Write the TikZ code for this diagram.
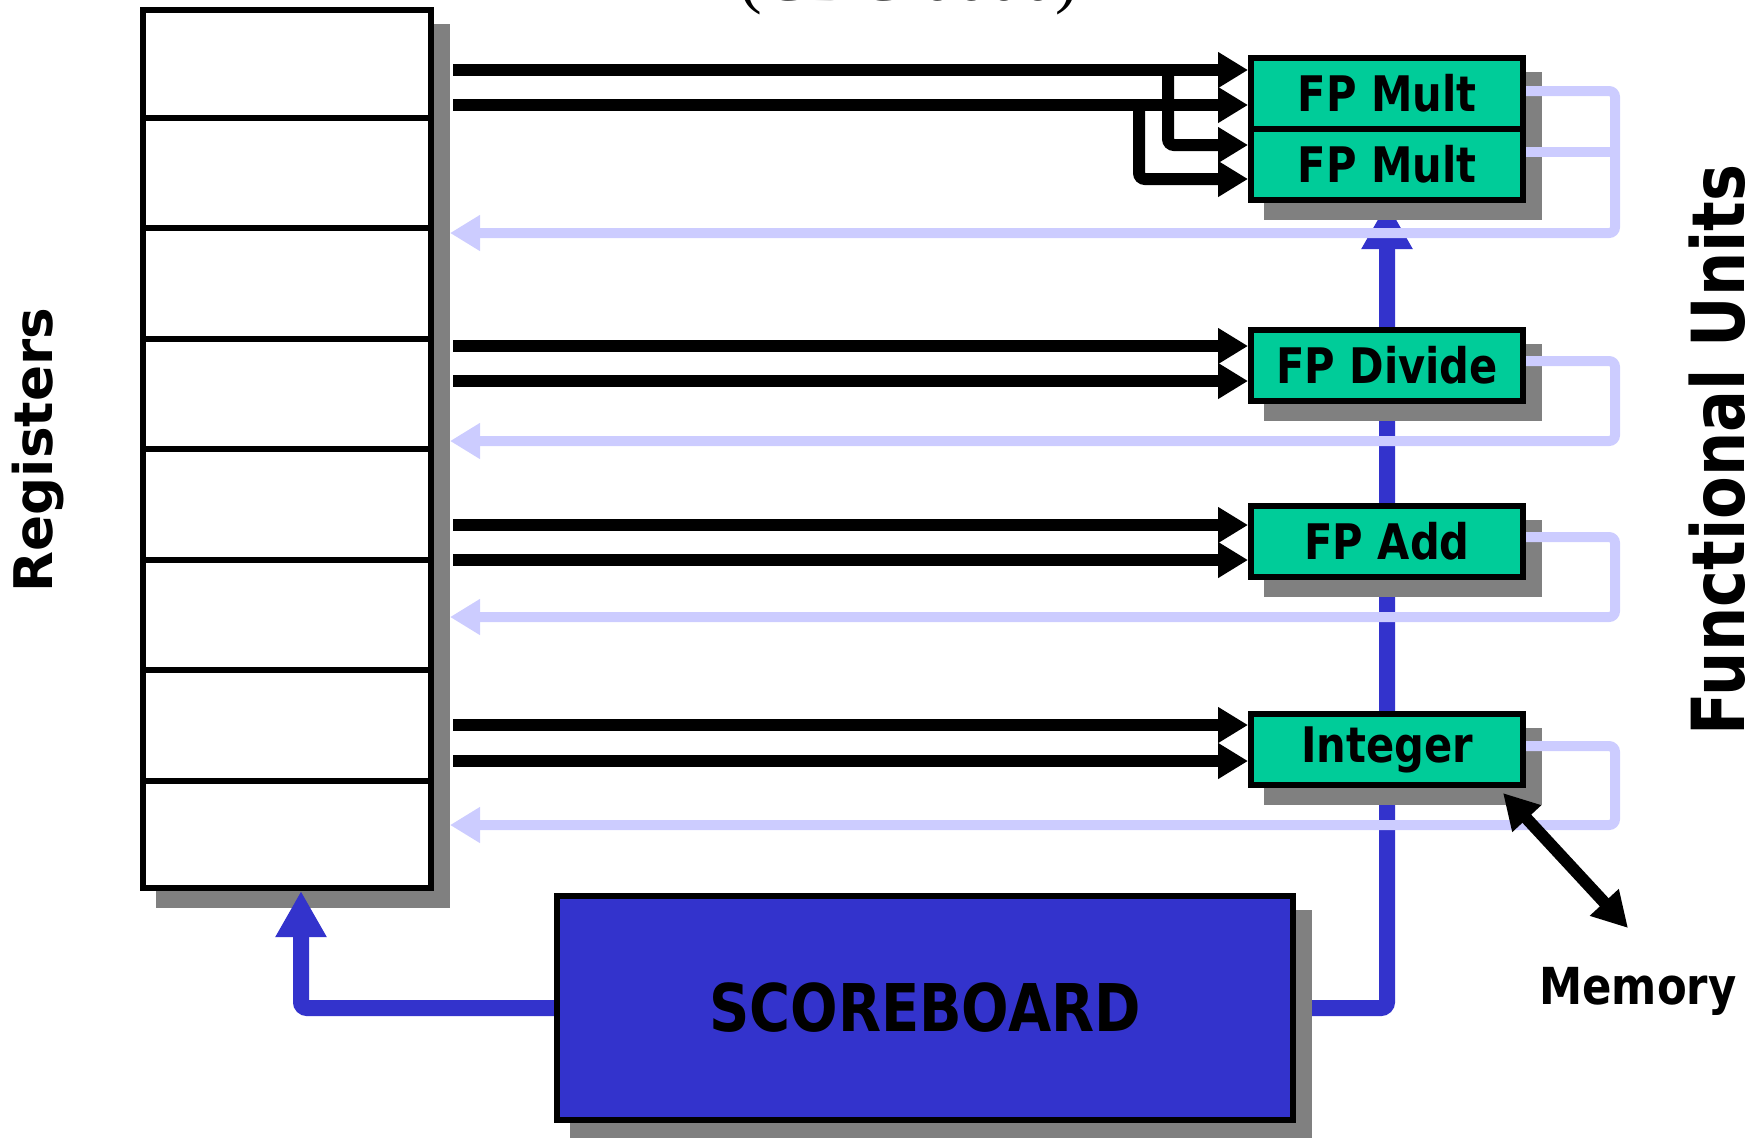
\documentclass[tikz,border=0pt]{standalone}
\usepackage{fontspec}
\setmainfont{DejaVu Sans}
\newfontfamily\narrowfont{DejaVu Sans}[FakeStretch=0.85]
\newfontfamily\titlefont{Liberation Serif}
\usetikzlibrary{arrows.meta,calc}
\definecolor{fugreen}{HTML}{00CC99}
\definecolor{sbblue}{HTML}{3333CC}
\definecolor{lavline}{HTML}{CCCCFF}
\definecolor{shadowgray}{HTML}{808080}
\pgfdeclarelayer{back}
\pgfdeclarelayer{shade}
\pgfdeclarelayer{mid}
\pgfsetlayers{back,shade,mid,main}
\begin{document}
\begin{tikzpicture}[x=0.5pt,y=-0.5pt,
  regbox/.style={draw, line width=3pt, fill=white, minimum width=144pt, minimum height=439pt, inner sep=0pt},
  fu/.style={draw, line width=3pt, fill=fugreen, minimum width=136pt, minimum height=35.5pt, inner sep=0pt,
    font=\narrowfont\bfseries\fontsize{24.5}{28}\selectfont},
  sbox/.style={draw, line width=3pt, fill=sbblue, minimum width=368pt, minimum height=112pt, inner sep=0pt,
    font=\narrowfont\bfseries\fontsize{32.9}{36}\selectfont},
  blk/.style={line width=6pt, -{Triangle[length=15pt,width=17pt]}},
  blkb/.style={line width=6pt, rounded corners=3pt, -{Triangle[length=15pt,width=17pt]}},
  lav/.style={draw=lavline, line width=5pt, rounded corners=3pt, -{Triangle[length=15pt,width=17pt]}},
  lavplain/.style={draw=lavline, line width=5pt},
  blu/.style={draw=sbblue, line width=8pt, rounded corners=3pt, -{Triangle[length=23pt,width=24pt]}},
  memarr/.style={line width=6pt, {Triangle[length=17.5pt,width=18.5pt]}-{Triangle[length=17.5pt,width=18.5pt]}},
  shadowfill/.style={fill=shadowgray}
]
\useasboundingbox (0,0) rectangle (1759,1137);

% title (cut by the page edge, as in the reference)
\node[font=\titlefont\fontsize{34}{40}\selectfont, anchor=base, inner sep=0pt] (title) at (909,0) {(CDC 6600)};

% nodes
\node[regbox] (regs) at (287,449) {};
\foreach \k in {1,...,7}
  \draw[line width=3pt] ($(regs.north west)!\k/8!(regs.south west)$) -- ($(regs.north east)!\k/8!(regs.south east)$);

\node[fu] (mult1) at (1387,93.5) {FP Mult};
\node[fu] (mult2) at (1387,164.5) {FP Mult};
\node[fu] (div) at (1387,365.5) {FP Divide};
\node[fu] (add) at (1387,541.5) {FP Add};
\node[fu] (int) at (1387,749.5) {Integer};
\node[sbox] (sb) at (925,1008) {SCOREBOARD};

\node[rotate=90, anchor=base, inner sep=0pt, font=\bfseries\fontsize{26.6}{30}\selectfont] (reglabel) at (52,450) {Registers};
\node[rotate=90, anchor=base, inner sep=0pt, font=\narrowfont\bfseries\fontsize{36.6}{40}\selectfont] (fulabel) at (1744,450) {Functional Units};
\node[anchor=base, inner sep=0pt, font=\narrowfont\bfseries\fontsize{25.5}{28}\selectfont] (mem) at (1638,1004) {Memory};

% shadows
\begin{pgfonlayer}{shade}
  \fill[shadowfill] ([shift={(16,17)}]regs.north west) rectangle ([shift={(16,17)}]regs.south east);
  \fill[shadowfill] ([shift={(16,17)}]mult1.north west) rectangle ([shift={(16,17)}]mult2.south east);
  \fill[shadowfill] ([shift={(16,17)}]div.north west) rectangle ([shift={(16,17)}]div.south east);
  \fill[shadowfill] ([shift={(16,17)}]add.north west) rectangle ([shift={(16,17)}]add.south east);
  \fill[shadowfill] ([shift={(16,17)}]int.north west) rectangle ([shift={(16,17)}]int.south east);
  \fill[shadowfill] ([shift={(16,17)}]sb.north west) rectangle ([shift={(16,17)}]sb.south east);
\end{pgfonlayer}

% scoreboard to functional units (behind shadows)
\begin{pgfonlayer}{back}
  \draw[blu] (sb.east) -| (mult2.south);
\end{pgfonlayer}

\coordinate (rin) at ([xshift=8pt]regs.east);
\coordinate (rout) at ([xshift=9.5pt]regs.east);
\coordinate (lx) at (1615,0);

\begin{pgfonlayer}{mid}
  \draw[blu] (sb.west) -| ([xshift=7pt]regs.south);
  \draw[lav] (mult1.east |- 0,91) -| (lx |- 0,233) -- (rin |- 0,233);
  \draw[lavplain] (mult2.east |- 0,152) -- (lx |- 0,152);
  \draw[lav] (div.east |- 0,361) -| (lx |- 0,441) -- (rin |- 0,441);
  \draw[lav] (add.east |- 0,537) -| (lx |- 0,617) -- (rin |- 0,617);
  \draw[lav] (int.east |- 0,746) -| (lx |- 0,825) -- (rin |- 0,825);
\end{pgfonlayer}

% operand buses
\draw[blk] (rout |- 0,70) -- (mult1.west |- 0,70);
\draw[blk] (rout |- 0,105) -- (mult1.west |- 0,105);
\coordinate (j1) at (1168,70);
\coordinate (j2) at (1139,105);
\draw[blkb] (j1) |- (mult2.west |- 0,145);
\draw[blkb] (j2) |- (mult2.west |- 0,179);
\draw[blk] (rout |- 0,346) -- (div.west |- 0,346);
\draw[blk] (rout |- 0,381) -- (div.west |- 0,381);
\draw[blk] (rout |- 0,525) -- (add.west |- 0,525);
\draw[blk] (rout |- 0,560) -- (add.west |- 0,560);
\draw[blk] (rout |- 0,725) -- (int.west |- 0,725);
\draw[blk] (rout |- 0,761) -- (int.west |- 0,761);

% memory
\coordinate (memA) at (1503,793);
\coordinate (memB) at (1628,928);
\draw[memarr] (memA) -- (memB);
\end{tikzpicture}
\end{document}
